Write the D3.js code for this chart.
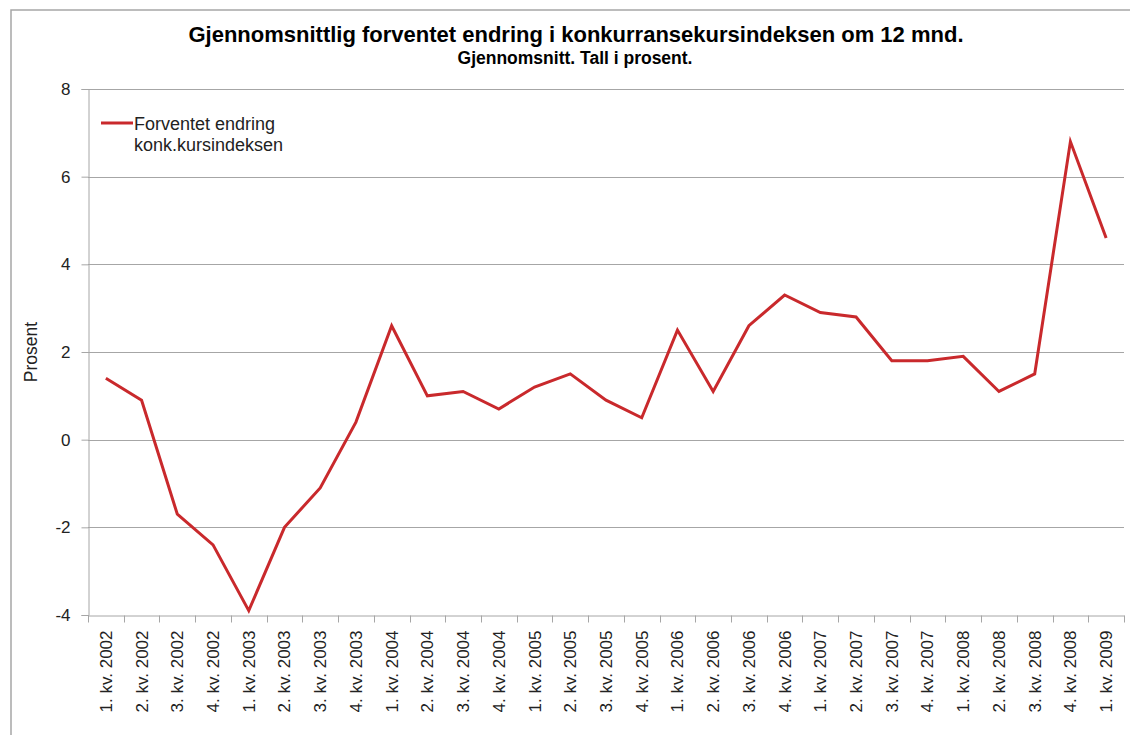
<!DOCTYPE html>
<html>
<head>
<meta charset="utf-8">
<script src="https://cdn.jsdelivr.net/npm/d3@7"></script>
<style>
  html, body { margin: 0; padding: 0; background: #fff; }
  svg { display: block; font-family: "Liberation Sans", Arial, sans-serif; }
</style>
</head>
<body>
<svg id="chart" width="1130" height="735"></svg>
<script>
const categories = [
  "1. kv. 2002","2. kv. 2002","3. kv. 2002","4. kv. 2002",
  "1. kv. 2003","2. kv. 2003","3. kv. 2003","4. kv. 2003",
  "1. kv. 2004","2. kv. 2004","3. kv. 2004","4. kv. 2004",
  "1. kv. 2005","2. kv. 2005","3. kv. 2005","4. kv. 2005",
  "1. kv. 2006","2. kv. 2006","3. kv. 2006","4. kv. 2006",
  "1. kv. 2007","2. kv. 2007","3. kv. 2007","4. kv. 2007",
  "1. kv. 2008","2. kv. 2008","3. kv. 2008","4. kv. 2008",
  "1. kv. 2009"
];
const values = [
  1.4, 0.9, -1.7, -2.4,
  -3.9, -2.0, -1.1, 0.4,
  2.6, 1.0, 1.1, 0.7,
  1.2, 1.5, 0.9, 0.5,
  2.5, 1.1, 2.6, 3.3,
  2.9, 2.8, 1.8, 1.8,
  1.9, 1.1, 1.5, 6.8,
  4.6
];
const yTicks = [-4, -2, 0, 2, 4, 6, 8];
const title = "Gjennomsnittlig forventet endring i konkurransekursindeksen om 12 mnd.";
const subtitle = "Gjennomsnitt. Tall i prosent.";
const yLabel = "Prosent";
const seriesName = ["Forventet endring", "konk.kursindeksen"];

const svg = d3.select("#chart");
const pLeft = 88, pRight = 1124, pTop = 89, pBottom = 615;
const gray = "#a6a6a6";
const red = "#c9292c";

// frame
svg.append("rect").attr("x", 11).attr("y", 10).attr("width", 1140).attr("height", 760)
  .attr("fill", "none").attr("stroke", gray).attr("stroke-width", 1.5);

const x = d3.scaleBand().domain(categories).range([pLeft, pRight]);
const y = d3.scaleLinear().domain([-4, 8]).range([pBottom, pTop]);

// gridlines
svg.append("g").selectAll("line").data(yTicks.filter(t => t !== -4)).join("line")
  .attr("x1", pLeft).attr("x2", pRight)
  .attr("y1", d => Math.round(y(d)) + 0.5).attr("y2", d => Math.round(y(d)) + 0.5)
  .attr("stroke", gray).attr("stroke-width", 1);

// y axis
const yAxis = svg.append("g").attr("transform", `translate(${pLeft + 0.5},0)`)
  .call(d3.axisLeft(y).tickValues(yTicks).tickSize(7).tickPadding(11).tickFormat(d => String(d)));
yAxis.select(".domain").attr("stroke", gray);
yAxis.selectAll(".tick line").attr("stroke", gray);
yAxis.selectAll(".tick text").attr("font-size", 17).attr("fill", "#222")
  .attr("font-family", "Liberation Sans, Arial, sans-serif");

// x axis
const xAxis = svg.append("g").attr("transform", `translate(0,${Math.round(pBottom) + 0.5})`)
  .call(d3.axisBottom(x).tickSize(0).tickPadding(0));
xAxis.select(".domain").attr("stroke", gray);
xAxis.selectAll(".tick line").remove();
const bounds = categories.map(c => x(c)).concat([pRight]);
xAxis.append("g").selectAll("line").data(bounds).join("line")
  .attr("x1", d => Math.round(d) + 0.5).attr("x2", d => Math.round(d) + 0.5)
  .attr("y1", 0).attr("y2", 7).attr("stroke", gray);
xAxis.selectAll(".tick text")
  .attr("font-size", 17).attr("fill", "#222")
  .attr("font-family", "Liberation Sans, Arial, sans-serif")
  .attr("text-anchor", "end")
  .attr("transform", "rotate(-90)")
  .attr("x", -15).attr("y", 0).attr("dy", "0.35em");

// line
const line = d3.line()
  .x((d, i) => x(categories[i]) + x.bandwidth() / 2)
  .y(d => y(d));
svg.append("path").datum(values)
  .attr("fill", "none").attr("stroke", red).attr("stroke-width", 3)
  .attr("stroke-linejoin", "miter").attr("d", line);

// titles
svg.append("text").attr("x", 576).attr("y", 42).attr("text-anchor", "middle")
  .attr("font-size", 22).attr("font-weight", "bold").attr("fill", "#000").text(title);
svg.append("text").attr("x", 575).attr("y", 64).attr("text-anchor", "middle")
  .attr("font-size", 17.5).attr("font-weight", "bold").attr("fill", "#000").text(subtitle);

// y label
svg.append("text").attr("transform", "translate(37,352) rotate(-90)")
  .attr("text-anchor", "middle").attr("font-size", 17.5).attr("fill", "#222").text(yLabel);

// legend
svg.append("line").attr("x1", 101).attr("x2", 133).attr("y1", 123).attr("y2", 123)
  .attr("stroke", red).attr("stroke-width", 3);
svg.append("text").attr("x", 134).attr("y", 130).attr("font-size", 18).attr("fill", "#222")
  .selectAll("tspan").data(seriesName).join("tspan")
  .attr("x", 134).attr("dy", (d, i) => i === 0 ? 0 : 21).text(d => d);
</script>
</body>
</html>
